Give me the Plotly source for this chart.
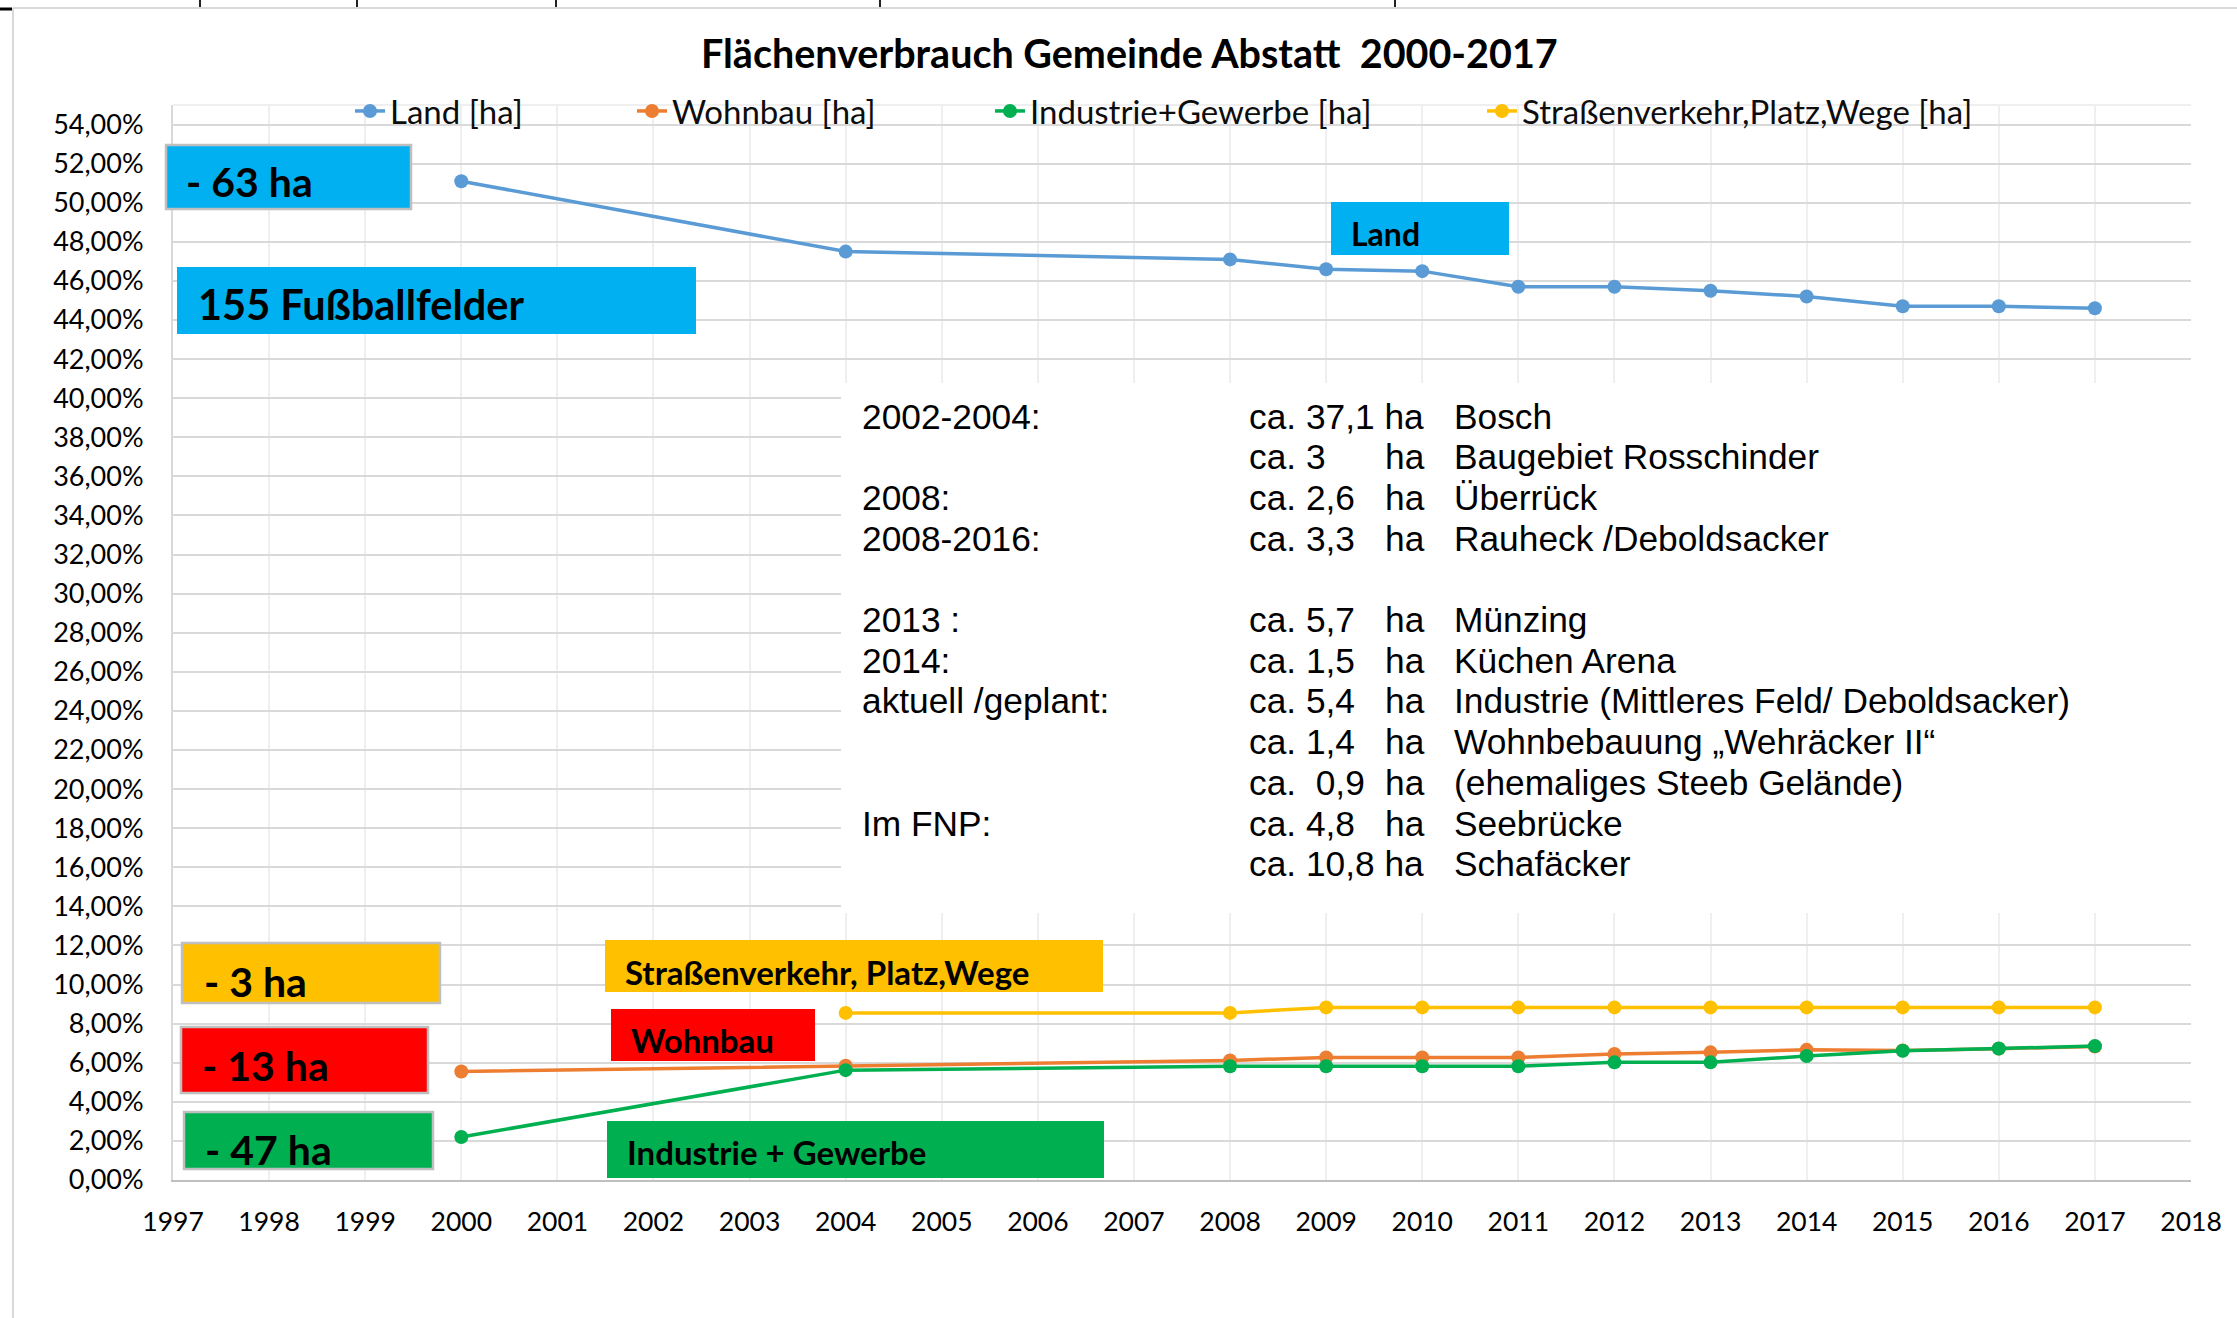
import plotly.graph_objects as go

# ---------------- data ----------------
years = [2000, 2004, 2008, 2009, 2010, 2011, 2012, 2013, 2014, 2015, 2016, 2017]
land = [51.1, 47.5, 47.1, 46.6, 46.5, 45.7, 45.7, 45.5, 45.2, 44.7, 44.7, 44.6]
wohnbau = [5.55, 5.85, 6.12, 6.27, 6.27, 6.27, 6.45, 6.53, 6.66, 6.63, 6.72, 6.83]
industrie = [2.2, 5.62, 5.82, 5.82, 5.82, 5.82, 6.02, 6.02, 6.34, 6.61, 6.73, 6.85]
strassen = [None, 8.55, 8.55, 8.83, 8.83, 8.83, 8.83, 8.83, 8.83, 8.83, 8.83, 8.83]

series_names = ["Land [ha]", "Wohnbau [ha]", "Industrie+Gewerbe [ha]",
                "Straßenverkehr,Platz,Wege [ha]"]
series_colors = ["#5B9BD5", "#ED7D31", "#00B050", "#FFC000"]

x_ticks = list(range(1997, 2019))

title_text = "Flächenverbrauch Gemeinde Abstatt  2000-2017"

box_texts = ["- 63 ha", "155 Fußballfelder", "Land", "- 3 ha",
             "Straßenverkehr, Platz,Wege", "Wohnbau", "- 13 ha",
             "Industrie + Gewerbe", "- 47 ha"]

notes_label = ["2002-2004:", "", "2008:", "2008-2016:", "", "2013 :", "2014:",
               "aktuell /geplant:", "", "", "Im FNP:", ""]
notes_amount = ["ca. 37,1 ha", "ca. 3", "ca. 2,6", "ca. 3,3", "", "ca. 5,7",
                "ca. 1,5", "ca. 5,4", "ca. 1,4", "ca.\u00a0 0,9", "ca. 4,8",
                "ca. 10,8 ha"]
notes_unit = ["", "ha", "ha", "ha", "", "ha", "ha", "ha", "ha", "ha", "ha", ""]
notes_place = ["Bosch", "Baugebiet Rosschinder", "Überrück",
               "Rauheck /Deboldsacker", "", "Münzing", "Küchen Arena",
               "Industrie (Mittleres Feld/ Deboldsacker)",
               "Wohnbebauung „Wehräcker II“", "(ehemaliges Steeb Gelände)",
               "Seebrücke", "Schafäcker"]

# ---------------- layout geometry (pixels) ----------------
W, H = 2237, 1318
PL, PR, PT, PB = 173, 2191, 105, 1180


def px(x):
    return (x - PL) / (PR - PL)


def py(y):
    return (PB - y) / (PB - PT)


CAL = "Lato, 'Open Sans', sans-serif"
ARI = "'Liberation Sans', Arial, sans-serif"

fig = go.Figure()
all_series = [land, wohnbau, industrie, strassen]
legend_ids = ["legend", "legend2", "legend3", "legend4"]
for name, vals, col, lg in zip(series_names, all_series, series_colors, legend_ids):
    fig.add_trace(go.Scatter(
        x=years, y=vals, name=name, mode="lines+markers",
        line=dict(color=col, width=3.5),
        marker=dict(color=col, size=14),
        legend=lg, showlegend=True, cliponaxis=False,
    ))

shapes = []
annotations = []

# chart-area border (screenshot crop)
shapes.append(dict(type="line", xref="paper", yref="paper",
                   x0=px(13), x1=px(W + 5), y0=py(8), y1=py(8),
                   line=dict(color="#D9D9D9", width=2)))
shapes.append(dict(type="line", xref="paper", yref="paper",
                   x0=px(13), x1=px(13), y0=py(8), y1=py(H + 5),
                   line=dict(color="#D9D9D9", width=2)))
for xx in [200, 357, 556, 880, 1395]:
    shapes.append(dict(type="line", xref="paper", yref="paper",
                       x0=px(xx), x1=px(xx), y0=py(0), y1=py(7),
                       line=dict(color="#222222", width=2)))
shapes.append(dict(type="line", xref="paper", yref="paper",
                   x0=px(0), x1=px(12), y0=py(9), y1=py(9),
                   line=dict(color="#000000", width=3)))
# faint top border of plot area
shapes.append(dict(type="line", xref="paper", yref="paper",
                   x0=0, x1=1, y0=1, y1=1, layer="below",
                   line=dict(color="#EFEFEF", width=2)))

# white note box covering gridlines
shapes.append(dict(type="rect", xref="paper", yref="paper",
                   x0=px(841), x1=px(2200), y0=py(383), y1=py(913),
                   fillcolor="white", line=dict(width=0), layer="above"))

# coloured label boxes: (x0, x1, y0, y1, fill, border)
box_geom = [
    (166, 411, 145, 209, "#00B0F0", True),
    (177, 696, 267, 334, "#00B0F0", False),
    (1331, 1509, 202, 255, "#00B0F0", False),
    (182, 440, 943, 1003, "#FFC000", True),
    (605, 1103, 940, 992, "#FFC000", False),
    (611, 815, 1009, 1061, "#FF0000", False),
    (181, 428, 1027, 1093, "#FF0000", True),
    (607, 1104, 1121, 1178, "#00B050", False),
    (184, 433, 1112, 1169, "#00B050", True),
]
box_text_pos = [
    (184, 182, 41), (196, 304, 41.5), (1349, 233, 32), (202, 981, 41),
    (623, 972, 33), (629, 1040, 33), (200, 1065, 41), (625, 1152, 33),
    (203, 1149, 41),
]
for (x0, x1, y0, y1, fill, border), txt, (tx, ty, fs) in zip(box_geom, box_texts, box_text_pos):
    shapes.append(dict(type="rect", xref="paper", yref="paper",
                       x0=px(x0), x1=px(x1), y0=py(y0), y1=py(y1),
                       fillcolor=fill, layer="above",
                       line=dict(color="#BFBFBF", width=2.5) if border else dict(width=0)))
    annotations.append(dict(xref="paper", yref="paper", x=px(tx), y=py(ty),
                            xanchor="left", yanchor="middle", showarrow=False,
                            text="<b>" + txt + "</b>",
                            font=dict(family=CAL, size=fs, color="#000000")))

# title
annotations.append(dict(xref="paper", yref="paper", x=px(1129), y=py(53),
                        xanchor="center", yanchor="middle", showarrow=False,
                        text="<b>" + title_text + "</b>",
                        font=dict(family=CAL, size=39.5, color="#000000")))

# note block
row_y0, row_step = 416, 40.7
for k in range(len(notes_place)):
    yy = py(row_y0 + row_step * k)
    for txt, xx in [(notes_label[k], 860), (notes_amount[k], 1247),
                    (notes_unit[k], 1383), (notes_place[k], 1452)]:
        if txt:
            annotations.append(dict(xref="paper", yref="paper", x=px(xx), y=yy,
                                    xanchor="left", yanchor="middle",
                                    showarrow=False, text=txt,
                                    font=dict(family=ARI, size=35.3, color="#000000")))

legend_text_x = [395, 677, 1035, 1527]
legend_common = dict(orientation="h", yanchor="middle", xanchor="left",
                     bgcolor="rgba(0,0,0,0)", borderwidth=0,
                     font=dict(family=CAL, size=33, color="#0d0d0d"))
legends = {}
for lg, tx in zip(legend_ids, legend_text_x):
    legends[lg] = dict(legend_common, x=px(tx - 45), y=py(111))

fig.update_layout(
    width=W, height=H,
    margin=dict(l=PL, r=W - PR, t=PT, b=H - PB, pad=0),
    paper_bgcolor="white", plot_bgcolor="white",
    separators=",.",
    shapes=shapes, annotations=annotations,
    **legends,
    xaxis=dict(range=[1997, 2018], tickvals=x_ticks, showgrid=True,
               gridcolor="#EFEFEF", gridwidth=2, showline=True,
               linecolor="#BFBFBF", linewidth=2, zeroline=False, ticks="",
               tickfont=dict(family=CAL, size=26.5, color="#000000"),
               ticklabelstandoff=17),
    yaxis=dict(range=[0, 55], tick0=0, dtick=2, tickformat=".2f",
               ticksuffix="%", showgrid=True, gridcolor="#D9D9D9",
               gridwidth=2, showline=True, linecolor="#D9D9D9", linewidth=2,
               zeroline=False, ticks="",
               tickfont=dict(family=CAL, size=27, color="#000000"),
               ticklabelstandoff=22),
)

fig.write_html("out.html", config={"displayModeBar": False},
               post_script="document.body.style.margin='0';")
